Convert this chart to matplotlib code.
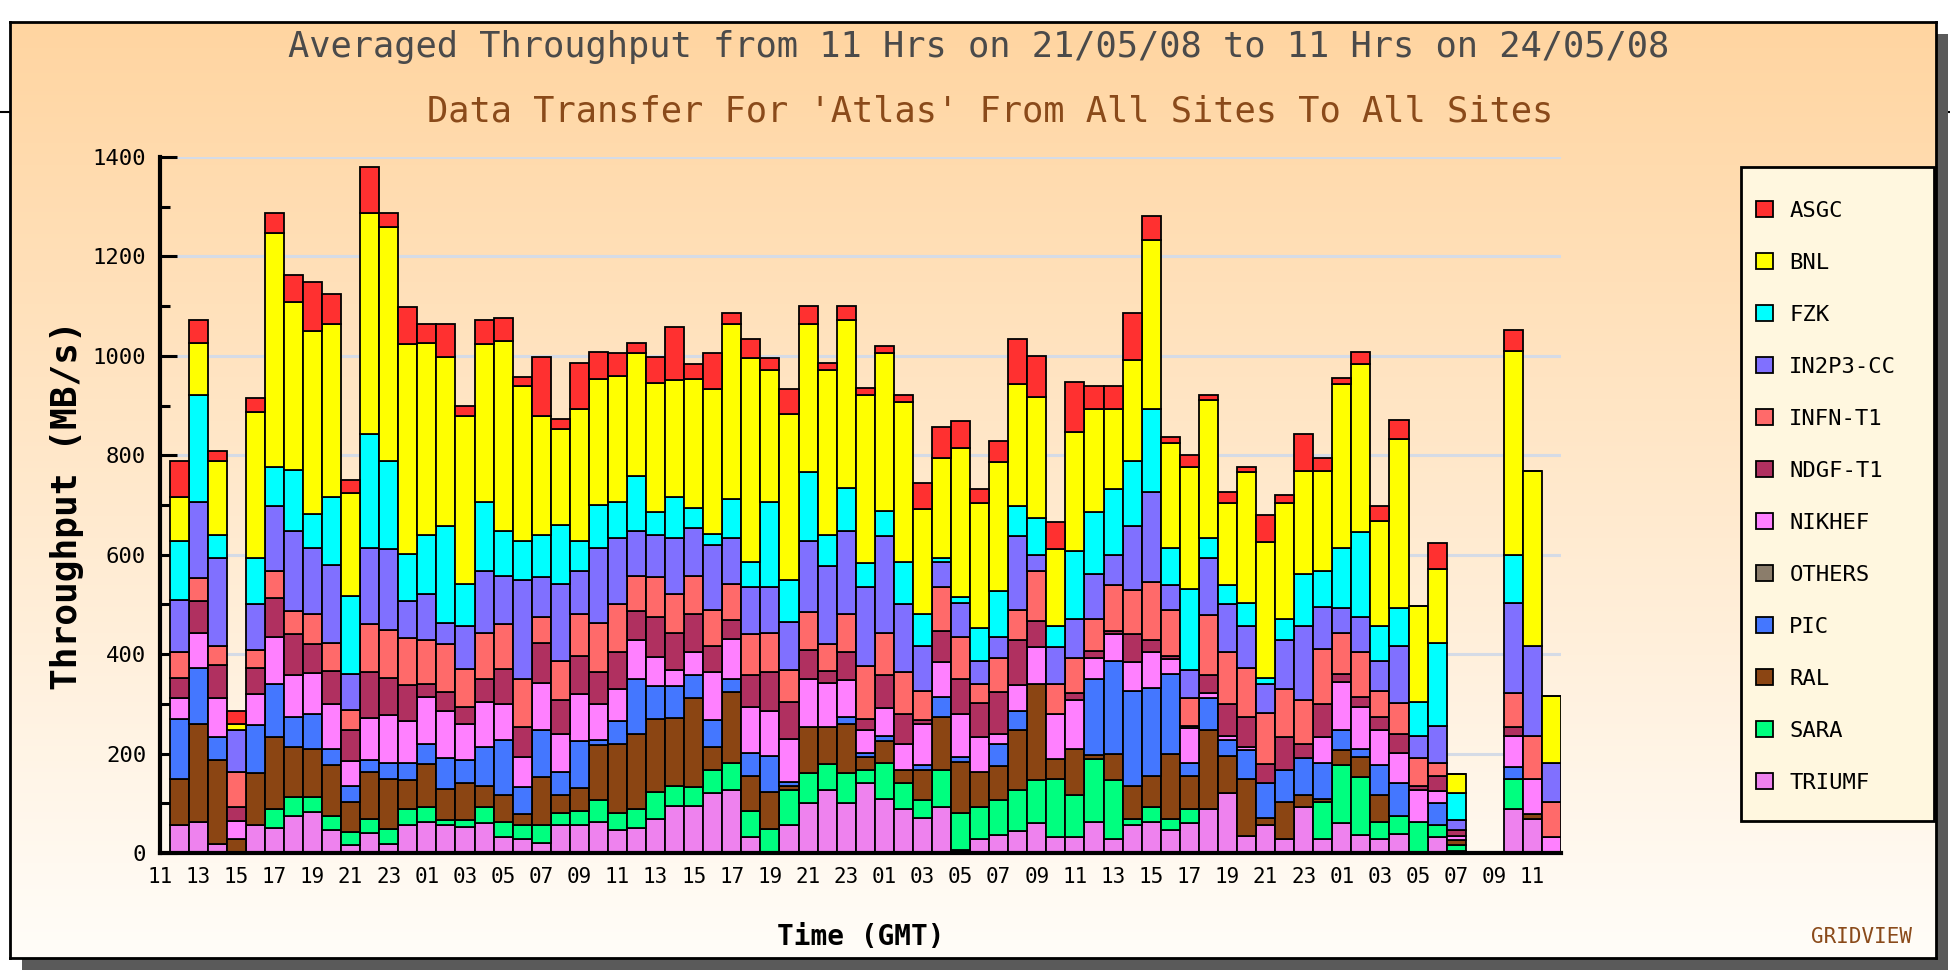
import numpy as np
import matplotlib
matplotlib.use("Agg")
import matplotlib.pyplot as plt
from matplotlib.patches import Rectangle
from matplotlib.lines import Line2D

# ---------------- data (MB/s, hourly, 11h 21/05/08 .. 11h 24/05/08) ----------------
hours = list(range(73))
tick_labels = ["11", "13", "15", "17", "19", "21", "23", "01", "03", "05", "07", "09",
               "11", "13", "15", "17", "19", "21", "23", "01", "03", "05", "07", "09",
               "11", "13", "15", "17", "19", "21", "23", "01", "03", "05", "07", "09", "11"]

TRIUMF = [56, 62, 19, 0, 56, 51, 74, 82, 47, 16, 40, 19, 56, 62, 56, 53, 60, 33, 28, 21,
          56, 56, 62, 47, 51, 68, 95, 95, 121, 127, 33, 0, 56, 100, 126, 100, 140, 109, 88, 70,
          93, 7, 28, 37, 44, 60, 33, 33, 62, 28, 56, 62, 47, 60, 88, 121, 34, 56, 28, 93,
          28, 60, 37, 28, 39, 0, 33, 5, 0, 0, 88, 68, 0]
SARA = [0, 0, 0, 0, 0, 37, 39, 31, 27, 26, 28, 30, 32, 31, 11, 14, 33, 29, 28, 35,
        25, 28, 45, 34, 37, 55, 40, 38, 46, 54, 51, 49, 70, 61, 53, 61, 27, 72, 52, 37,
        74, 74, 65, 70, 83, 86, 116, 83, 127, 118, 12, 31, 21, 28, 0, 0, 0, 0, 0, 0,
        74, 117, 116, 34, 35, 62, 23, 12, 0, 0, 61, 0, 0]
RAL = [93, 198, 169, 28, 105, 145, 101, 96, 103, 60, 95, 100, 59, 87, 61, 74, 42, 54, 23, 97,
       35, 46, 110, 139, 151, 147, 137, 179, 47, 142, 71, 74, 9, 93, 75, 99, 26, 44, 27, 60,
       107, 102, 70, 67, 121, 194, 40, 93, 9, 54, 67, 62, 132, 67, 160, 74, 115, 14, 74, 23,
       7, 30, 40, 54, 0, 0, 0, 9, 0, 0, 0, 11, 0]
PIC = [121, 112, 45, 0, 97, 107, 60, 70, 32, 33, 25, 32, 34, 40, 63, 47, 79, 112, 53, 94,
       47, 96, 11, 45, 110, 65, 63, 46, 53, 26, 47, 72, 8, 0, 0, 14, 9, 10, 0, 10,
       39, 10, 0, 46, 38, 0, 0, 0, 151, 186, 191, 177, 160, 26, 64, 33, 58, 70, 65, 75,
       72, 40, 16, 61, 66, 0, 44, 0, 0, 0, 23, 0, 0]
OTHERS = [0] * 73
NIKHEF = [42, 70, 79, 37, 61, 94, 84, 84, 91, 51, 84, 96, 84, 93, 95, 72, 90, 72, 61, 94,
          76, 93, 72, 65, 79, 60, 34, 47, 98, 82, 91, 91, 87, 97, 87, 73, 45, 56, 53, 83,
          71, 86, 70, 19, 52, 74, 90, 98, 44, 54, 58, 73, 31, 70, 9, 7, 7, 0, 0, 0,
          52, 97, 84, 71, 62, 65, 24, 9, 0, 0, 63, 70, 33]
NDGF_T1 = [41, 65, 67, 28, 53, 78, 82, 57, 67, 62, 93, 75, 72, 27, 37, 33, 47, 70, 61, 82,
           68, 78, 65, 75, 59, 79, 73, 76, 51, 37, 65, 79, 73, 58, 26, 58, 23, 67, 59, 7,
           63, 72, 69, 84, 90, 53, 0, 14, 14, 7, 56, 23, 6, 5, 37, 65, 59, 40, 66, 29,
           67, 16, 20, 26, 37, 8, 31, 12, 0, 0, 19, 0, 0]
INFN_T1 = [52, 46, 37, 70, 37, 55, 47, 61, 56, 40, 95, 96, 96, 88, 97, 77, 91, 90, 95, 51,
           79, 84, 97, 95, 71, 81, 79, 77, 72, 74, 82, 77, 65, 75, 54, 76, 107, 84, 86, 59,
           88, 83, 38, 70, 60, 100, 61, 72, 63, 93, 90, 118, 91, 56, 121, 105, 99, 102, 97, 87,
           111, 82, 92, 52, 63, 56, 26, 0, 0, 0, 67, 86, 69]
IN2P3_CC = [104, 154, 177, 84, 91, 131, 160, 133, 157, 72, 154, 164, 74, 93, 42, 86, 125, 98, 200, 81,
            155, 86, 152, 133, 89, 84, 112, 95, 132, 91, 95, 93, 97, 144, 156, 166, 158, 195, 135, 90,
            51, 68, 46, 41, 149, 33, 74, 77, 91, 60, 128, 180, 52, 56, 114, 95, 84, 58, 98, 149,
            84, 51, 69, 60, 114, 44, 75, 19, 0, 0, 181, 181, 79]
FZK = [119, 214, 46, 0, 93, 79, 123, 67, 136, 156, 228, 176, 95, 118, 196, 85, 140, 89, 79, 84,
       119, 61, 86, 74, 111, 47, 83, 40, 22, 79, 51, 172, 84, 139, 62, 88, 48, 50, 86, 65,
       7, 12, 67, 93, 61, 73, 42, 137, 125, 132, 130, 167, 74, 163, 40, 40, 46, 13, 42, 105,
       72, 121, 171, 70, 77, 69, 167, 54, 0, 0, 98, 0, 0]
BNL = [88, 104, 149, 13, 294, 470, 339, 370, 349, 208, 445, 472, 421, 386, 340, 338, 316, 383, 312, 240,
       193, 265, 253, 253, 247, 260, 236, 260, 291, 353, 409, 265, 335, 298, 333, 337, 338, 318, 321, 210,
       202, 300, 251, 259, 246, 245, 155, 240, 207, 161, 203, 341, 211, 246, 279, 164, 265, 273, 234, 208,
       202, 330, 338, 211, 340, 192, 149, 39, 0, 0, 409, 353, 135]
ASGC = [72, 47, 21, 26, 29, 41, 54, 98, 59, 27, 93, 28, 75, 40, 67, 21, 49, 47, 18, 119,
        20, 93, 54, 45, 21, 52, 107, 30, 72, 21, 38, 23, 49, 35, 14, 28, 14, 15, 14, 54,
        61, 54, 28, 42, 89, 82, 54, 100, 47, 47, 95, 48, 12, 23, 9, 22, 10, 53, 17, 73,
        26, 11, 24, 31, 37, 0, 51, 0, 0, 0, 44, 0, 0]

# stacking order bottom -> top
series_names = ["TRIUMF", "SARA", "RAL", "PIC", "OTHERS", "NIKHEF", "NDGF-T1",
                "INFN-T1", "IN2P3-CC", "FZK", "BNL", "ASGC"]
series_values = [TRIUMF, SARA, RAL, PIC, OTHERS, NIKHEF, NDGF_T1,
                 INFN_T1, IN2P3_CC, FZK, BNL, ASGC]
series_colors = ["#EE82EE", "#00FF7F", "#8B4513", "#4477FF", "#8B7D6B", "#FF80FF", "#B03060",
                 "#FF6A6A", "#8070FF", "#00FFFF", "#FFFF00", "#FF3030"]

# ---------------- figure ----------------
W, H = 1950, 974
fig = plt.figure(figsize=(W / 100, H / 100), dpi=100, facecolor="white")
MONO = ["DejaVu Sans Mono"]

def fx(px):
    return px / W

def fy(py):
    return 1 - py / H

# shadow + gradient frame
fl, ft, fr, fb = 10, 22, 1936, 958
shadow = Rectangle((fx(fl + 12), fy(fb + 12)), fx(fr - fl), (fb - ft) / H,
                   transform=fig.transFigure, facecolor="#5a5a5a", edgecolor="none", zorder=-20)
fig.patches.append(shadow)
bg = fig.add_axes([fx(fl), fy(fb), fx(fr - fl), (fb - ft) / H], zorder=-10)
top_c = np.array([1.0, 0.835, 0.63])
bot_c = np.array([1.0, 0.992, 0.975])
t = np.linspace(0, 1, 256)[:, None]
grad = (top_c[None, :] * (1 - t) + bot_c[None, :] * t)[:, None, :]
bg.imshow(grad, aspect="auto", extent=[0, 1, 0, 1], origin="upper")
bg.set_xticks([])
bg.set_yticks([])
for s in bg.spines.values():
    s.set_linewidth(2)
    s.set_color("black")
# thin black lines peeking out at the sides
fig.lines.append(Line2D([0, fx(fl)], [fy(112), fy(112)], transform=fig.transFigure,
                        color="black", lw=1.5, zorder=-30))
fig.lines.append(Line2D([fx(fr), 1], [fy(112), fy(112)], transform=fig.transFigure,
                        color="black", lw=1.5, zorder=-30))

# main axes
x0, x1, y0, y1 = 160, 1561, 157, 853
ax = fig.add_axes([fx(x0), fy(y1), fx(x1 - x0), (y1 - y0) / H])
ax.patch.set_alpha(0)

bottom = np.zeros(len(hours))
handles = []
for name, vals, col in zip(series_names, series_values, series_colors):
    v = np.array(vals, dtype=float)
    b = ax.bar(hours, v, width=1.0, bottom=bottom, align="edge", color=col,
               edgecolor="black", linewidth=1.3, label=name, zorder=2)
    handles.append(b)
    bottom += v

ax.set_xlim(-0.16, 73.0)
ax.set_ylim(0, 1400)
for yv in range(200, 1401, 200):
    ax.axhline(yv, color="#d5dbe6", lw=2.2, zorder=0.5)

ax.set_yticks(range(0, 1401, 200))
ax.set_yticks(range(100, 1400, 200), minor=True)
ax.tick_params(axis="y", which="major", direction="in", length=12, width=2.2,
               labelsize=16, pad=10)
ax.tick_params(axis="y", which="minor", direction="in", length=7, width=2.2)
ax.set_xticks([h - 0.5 for h in hours[::2]])
ax.set_xticklabels(tick_labels)
ax.tick_params(axis="x", length=0, labelsize=15, pad=10)
for lab in ax.get_xticklabels() + ax.get_yticklabels():
    lab.set_family(MONO)
for sp in ["top", "right"]:
    ax.spines[sp].set_visible(False)
ax.spines["left"].set_linewidth(3)
ax.spines["bottom"].set_linewidth(3)

ax.set_ylabel("Throughput (MB/s)", fontsize=26, fontweight="bold", family=MONO)
ax.yaxis.set_label_coords(-0.054, 0.5)
ax.set_xlabel("Time (GMT)", fontsize=20, fontweight="bold", family=MONO)
ax.xaxis.set_label_coords(0.5, -0.100)

fig.text(0.502, fy(47), "Averaged Throughput from 11 Hrs on 21/05/08 to 11 Hrs on 24/05/08",
         ha="center", va="center", fontsize=25.5, color="#4a4a4a", family=MONO)
fig.text(0.508, fy(112), "Data Transfer For 'Atlas' From All Sites To All Sites",
         ha="center", va="center", fontsize=25.5, color="#8a4a1a", family=MONO)
fig.text(fx(1862), fy(937), "GRIDVIEW", ha="center", va="center", fontsize=15,
         color="#8a4a1a", family=MONO)

# legend box drawn separately, legend entries placed inside it
lx0, ly0, lx1, ly1 = 1741, 167, 1934, 821
legbox = Rectangle((fx(lx0), fy(ly1)), fx(lx1 - lx0), (ly1 - ly0) / H,
                   transform=fig.transFigure, facecolor="#fff7df", edgecolor="black",
                   linewidth=2, zorder=1)
fig.patches.append(legbox)
leg = fig.legend(handles[::-1], series_names[::-1], loc="upper left",
                 bbox_to_anchor=(fx(1756), fy(201)), prop={"family": MONO, "size": 16},
                 frameon=False, labelspacing=1.44, handlelength=0.75, handleheight=0.75,
                 handletextpad=0.75, borderpad=0, borderaxespad=0)
leg.set_zorder(3)

fig.savefig("out.png", dpi=100, facecolor="white")
